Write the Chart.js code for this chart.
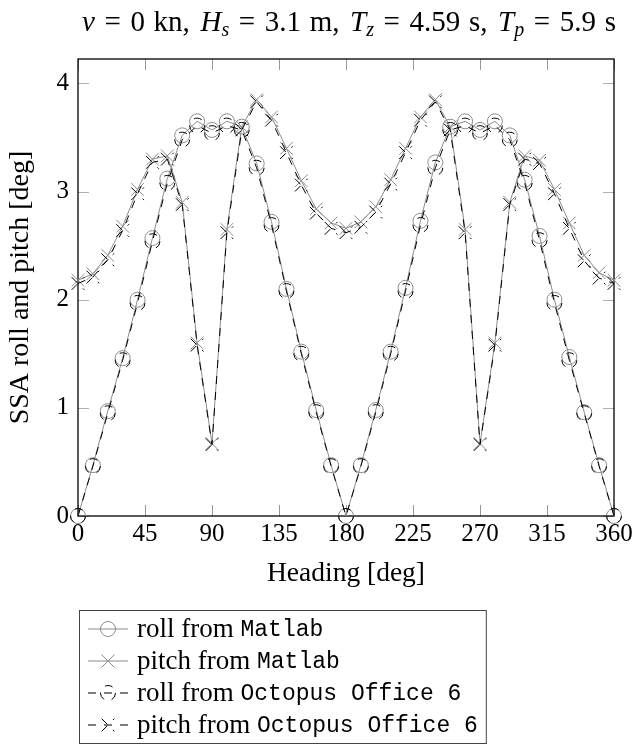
<!DOCTYPE html>
<html><head><meta charset="utf-8">
<script src="https://cdn.jsdelivr.net/npm/chart.js@4.4.0/dist/chart.umd.min.js"></script>
<style>html,body{margin:0;padding:0;background:#fff;}#wrap{width:632px;height:753px;position:relative;}</style>
</head><body><div id="wrap"><canvas id="c" width="632" height="753"></canvas></div>
<script>
const headings = [0,10,20,30,40,50,60,70,80,90,100,110,120,130,140,150,160,170,180,190,200,210,220,230,240,250,260,270,280,290,300,310,320,330,340,350,360];
const rollMatlab = [0,0.47,0.97,1.46,2.00,2.57,3.12,3.52,3.65,3.57,3.65,3.60,3.26,2.72,2.10,1.52,0.98,0.47,0,0.47,0.98,1.52,2.11,2.73,3.27,3.60,3.65,3.57,3.65,3.52,3.11,2.59,2.00,1.47,0.96,0.47,0];
const pitchMatlab = [2.18,2.24,2.41,2.68,3.02,3.30,3.33,2.90,1.60,0.67,2.65,3.60,3.85,3.69,3.40,3.10,2.84,2.71,2.66,2.72,2.86,3.11,3.40,3.69,3.85,3.60,2.65,0.67,1.60,2.90,3.33,3.29,3.02,2.71,2.41,2.25,2.18];
const rollOctopus = [0,0.46,0.95,1.44,1.97,2.54,3.08,3.48,3.61,3.54,3.61,3.57,3.22,2.69,2.08,1.50,0.96,0.46,0,0.46,0.96,1.50,2.08,2.69,3.22,3.57,3.61,3.54,3.61,3.48,3.08,2.55,1.97,1.44,0.95,0.46,0];
const pitchOctopus = [2.15,2.21,2.37,2.64,2.98,3.27,3.30,2.88,1.58,0.66,2.62,3.57,3.83,3.66,3.36,3.06,2.80,2.66,2.62,2.67,2.81,3.07,3.36,3.66,3.83,3.57,2.62,0.66,1.58,2.88,3.30,3.26,2.98,2.66,2.36,2.20,2.15];
const xTicks = [0,45,90,135,180,225,270,315,360];
const yTicks = [0,1,2,3,4];
const legendSerif = ['roll from ','pitch from ','roll from ','pitch from '];
const legendMono = ['Matlab','Matlab','Octopus Office 6','Octopus Office 6'];

const SERIF = "'Liberation Serif', serif";
const MONO = "'Liberation Mono', monospace";
const GRAY = '#8c8c8c';
const DASH = [8,8];
const pts = arr => headings.map((h,i)=>({x:h,y:arr[i]}));

const dashPoints = {
  id:'dashPoints',
  beforeDatasetDraw(chart,args){const ds=chart.data.datasets[args.index]; if(ds.pointDash){chart.ctx.save();chart.ctx.setLineDash(ds.pointDash);}},
  afterDatasetDraw(chart,args){const ds=chart.data.datasets[args.index]; if(ds.pointDash){chart.ctx.restore();}}
};

const frame = {
  id:'frame',
  beforeDatasetsDraw(chart){
    const {ctx, chartArea:a, scales:{x,y}} = chart;
    ctx.save();
    const TL = 11;
    ctx.lineWidth = 1;
    ctx.strokeStyle = '#999';
    xTicks.forEach(v=>{const px=Math.round(x.getPixelForValue(v))+0.5;
      ctx.beginPath();ctx.moveTo(px,a.bottom);ctx.lineTo(px,a.bottom-TL);ctx.moveTo(px,a.top);ctx.lineTo(px,a.top+TL);ctx.stroke();});
    ctx.strokeStyle = '#b0b0b0';
    yTicks.forEach(v=>{const py=Math.round(y.getPixelForValue(v))+0.5;
      ctx.beginPath();ctx.moveTo(a.left,py);ctx.lineTo(a.left+TL,py);ctx.moveTo(a.right,py);ctx.lineTo(a.right-TL,py);ctx.stroke();});
    ctx.strokeStyle = '#000';
    ctx.lineWidth = 1.3;
    ctx.strokeRect(a.left,a.top,a.right-a.left,a.bottom-a.top);
    ctx.restore();
  },
  afterDraw(chart){
    const {ctx, chartArea:a} = chart;
    ctx.save();
    // title: [text, italic, subscript, gapBefore(units)]
    const parts = [['v',1,0,0],['=',0,0,1],['0',0,0,1],['kn,',0,0,0.9],['H',1,0,1.1],['s',1,1,0],['=',0,0,1],['3.1',0,0,1],['m,',0,0,0.9],['T',1,0,1.1],['z',1,1,0],['=',0,0,1],['4.59',0,0,1],['s,',0,0,0.9],['T',1,0,1.1],['p',1,1,0],['=',0,0,1],['5.9',0,0,1],['s',0,0,0.9]];
    const fs = 29, sfs = 20;
    const fontOf = p => (p[1]?'italic ':'') + (p[2]?sfs:fs) + 'px ' + SERIF;
    let tw = 0, gu = 0;
    parts.forEach(p=>{ctx.font=fontOf(p); tw+=ctx.measureText(p[0]).width; gu+=p[3];});
    const targetW = 534;
    const g = (targetW - tw)/gu;
    let cx = 349 - targetW/2;
    const by = 31;
    ctx.fillStyle='#000'; ctx.textBaseline='alphabetic'; ctx.textAlign='left';
    parts.forEach(p=>{cx += p[3]*g; ctx.font=fontOf(p); ctx.fillText(p[0],cx,by+(p[2]?5:0)); cx+=ctx.measureText(p[0]).width;});
    // legend
    const L = a.left+1, T = 610, rowH = 32, n = 4;
    const lfs = 27, mfs = 23;
    const x0 = L+9, x1 = x0+40, tx = x1+9;
    let maxW = 0;
    for(let i=0;i<n;i++){ctx.font=lfs+'px '+SERIF; let t=ctx.measureText(legendSerif[i]).width; ctx.font=mfs+'px '+MONO; t+=ctx.measureText(legendMono[i]).width; maxW=Math.max(maxW,t);}
    const boxW = (tx - L) + maxW + 8;
    const boxH = n*rowH + 5;
    ctx.lineWidth = 1; ctx.strokeStyle='#444';
    ctx.strokeRect(L+0.5,T+0.5,boxW,boxH);
    chart.data.datasets.forEach((ds,i)=>{
      const cy = T + 3 + rowH*i + rowH/2;
      const xm=(x0+x1)/2;
      ctx.save();
      ctx.strokeStyle = ds.borderColor; ctx.lineWidth = ds.borderWidth;
      ctx.setLineDash(ds.borderDash||[]);
      ctx.beginPath(); ctx.moveTo(x0,cy); ctx.lineTo(x1,cy); ctx.stroke();
      ctx.setLineDash(ds.pointDash||[]);
      ctx.fillStyle = 'rgba(0,0,0,0)';
      Chart.helpers.drawPoint(ctx,{pointStyle:ds.pointStyle,radius:ds.pointRadius,rotation:ds.pointRotation||0,borderWidth:ds.pointBorderWidth},xm,cy);
      ctx.restore();
      ctx.fillStyle='#000'; ctx.textBaseline='middle';
      ctx.font=lfs+'px '+SERIF; ctx.fillText(legendSerif[i],tx,cy+1);
      const w1=ctx.measureText(legendSerif[i]).width;
      ctx.font=mfs+'px '+MONO; ctx.fillText(legendMono[i],tx+w1,cy+1);
    });
    ctx.restore();
  }
};

const mk = (label,data,color,style,dash,order,r,rot) => ({
  label, data, borderColor:color, backgroundColor:'rgba(0,0,0,0)', borderWidth:1,
  pointStyle:style, pointRadius:r, pointHoverRadius:r, pointBorderWidth:1, pointBorderColor:color, pointRotation:rot||0,
  pointBackgroundColor:'rgba(0,0,0,0)', borderDash:dash||[], pointDash:dash||null, tension:0, order, clip:false
});

new Chart(document.getElementById('c'), {
  type:'line',
  data:{datasets:[
    mk('roll from Matlab', pts(rollMatlab), GRAY, 'circle', null, 4, 7.5),
    mk('pitch from Matlab', pts(pitchMatlab), GRAY, 'crossRot', null, 3, 9),
    mk('roll from Octopus Office 6', pts(rollOctopus), '#000', 'circle', DASH, 2, 7.5),
    mk('pitch from Octopus Office 6', pts(pitchOctopus), '#000', 'crossRot', DASH, 1, 9, -90)
  ]},
  options:{
    responsive:false, animation:false, devicePixelRatio:1,
    layout:{padding:{left:0,right:18,top:59,bottom:163}},
    plugins:{legend:{display:false}, tooltip:{enabled:false}, title:{display:false}},
    scales:{
      x:{type:'linear', min:0, max:360,
        afterBuildTicks:s=>{s.ticks=xTicks.map(v=>({value:v}));},
        afterFit:s=>{s.height=74; s.paddingLeft=0; s.paddingRight=0;},
        grid:{display:false, drawTicks:false}, border:{display:false},
        ticks:{color:'#000', font:{family:SERIF,size:25}, padding:3, maxRotation:0, autoSkip:false},
        title:{display:true, text:'Heading [deg]', color:'#000', font:{family:SERIF,size:27.5}, padding:{top:0,bottom:0}}
      },
      y:{type:'linear', min:0, max:4.226,
        afterBuildTicks:s=>{s.ticks=yTicks.map(v=>({value:v}));},
        afterFit:s=>{s.width=78; s.paddingTop=0; s.paddingBottom=0;},
        grid:{display:false, drawTicks:false}, border:{display:false},
        ticks:{color:'#000', font:{family:SERIF,size:25}, padding:9},
        title:{display:true, text:'SSA roll and pitch [deg]', color:'#000', font:{family:SERIF,size:28}, padding:{top:4,bottom:0}}
      }
    }
  },
  plugins:[dashPoints, frame]
});
</script></body></html>
